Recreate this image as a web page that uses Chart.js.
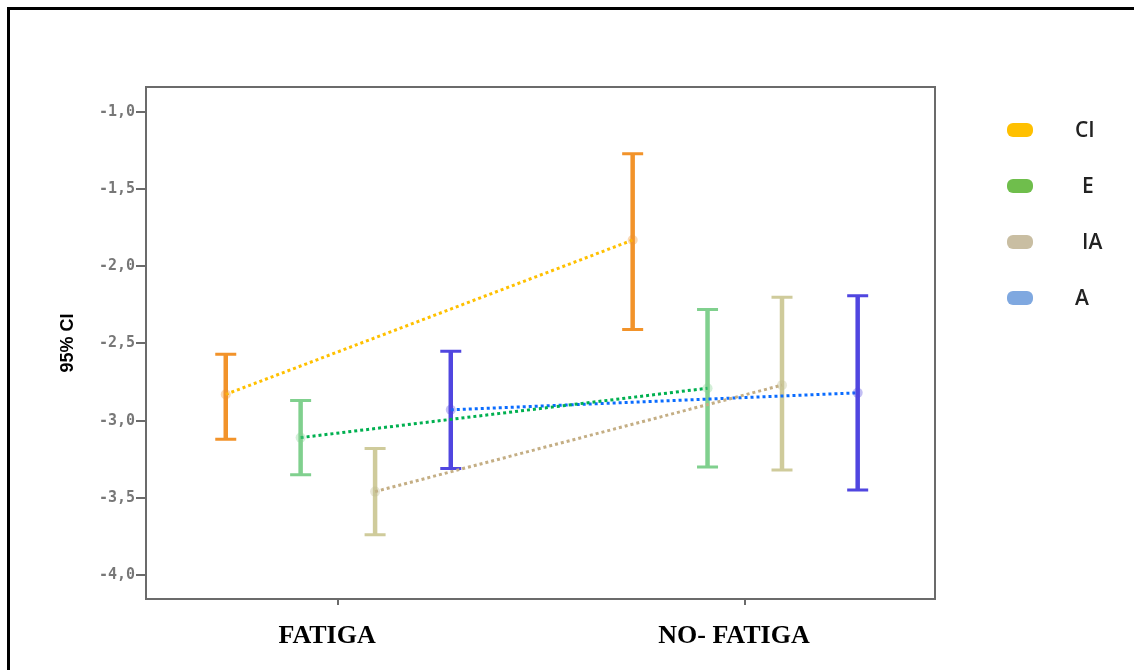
<!DOCTYPE html>
<html>
<head>
<meta charset="utf-8">
<script src="https://cdn.jsdelivr.net/npm/chart.js@4"></script>
<style>
  html, body { margin: 0; padding: 0; background: #fff; }
  #wrap { position: relative; width: 1134px; height: 670px; overflow: hidden; }
  #frame { position: absolute; left: 7px; top: 7px; width: 1200px; height: 700px;
           border-top: 3px solid #000; border-left: 3px solid #000; }
  #chart { position: absolute; left: 0; top: 0; }
  .swatch { position: absolute; width: 26px; height: 14px; border-radius: 6px; }
  .label { position: absolute; font-family: 'Open Sans', sans-serif; font-size: 21px; font-weight: 600; color: #222; line-height: 22px; }
</style>
</head>
<body>
<div id="wrap">
  <div id="frame"></div>
  <canvas id="chart" width="1134" height="670"></canvas>
</div>
<script>
// categories on the x axis
const categories = ['FATIGA', 'NO- FATIGA'];
const seriesNames = ['CI', 'E', 'IA', 'A'];
const yTickValues = [-1.0, -1.5, -2.0, -2.5, -3.0, -3.5, -4.0];

// mean and 95% CI bounds, one value per category
const ciMean = [-2.83, -1.83];
const ciLow  = [-3.12, -2.41];
const ciHigh = [-2.57, -1.27];

const eMean = [-3.11, -2.79];
const eLow  = [-3.35, -3.30];
const eHigh = [-2.87, -2.28];

const iaMean = [-3.46, -2.77];
const iaLow  = [-3.74, -3.32];
const iaHigh = [-3.18, -2.20];

const aMean = [-2.93, -2.82];
const aLow  = [-3.31, -3.45];
const aHigh = [-2.55, -2.19];

// look
const groupOffsets = [-0.276, -0.092, 0.091, 0.277];
const barColors = ['#F2932A', '#80D08E', '#CFCB9B', '#5046E0'];
const pointColors = ['rgba(242,147,42,0.35)', 'rgba(128,208,142,0.35)', 'rgba(190,186,140,0.35)', 'rgba(80,70,224,0.35)'];
const lineColors = ['#FFC000', '#00B050', '#C4AE84', '#0A6CFF'];
const legendColors = ['#FFC000', '#6FBE4C', '#C9BEA2', '#7FA8E0'];
const legendTextX = [1075, 1082, 1082, 1075];

const means = [ciMean, eMean, iaMean, aMean];
const lows = [ciLow, eLow, iaLow, aLow];
const highs = [ciHigh, eHigh, iaHigh, aHigh];

const datasets = seriesNames.map((name, s) => ({
  label: name,
  data: categories.map((c, i) => ({ x: i + groupOffsets[s], y: means[s][i] })),
  low: lows[s],
  high: highs[s],
  barColor: barColors[s],
  borderColor: lineColors[s],
  borderWidth: 3,
  borderDash: [3, 3],
  pointRadius: 5,
  pointBorderWidth: 0,
  pointBackgroundColor: pointColors[s],
  fill: false
}));

// error bars under the dotted lines
const errorBars = {
  id: 'errorBars',
  beforeDatasetsDraw(chart) {
    const { ctx, scales: { x, y } } = chart;
    ctx.save();
    chart.data.datasets.forEach(ds => {
      ds.data.forEach((p, i) => {
        const px = x.getPixelForValue(p.x);
        const top = y.getPixelForValue(ds.high[i]);
        const bot = y.getPixelForValue(ds.low[i]);
        ctx.strokeStyle = ds.barColor;
        ctx.lineWidth = 4.5;
        ctx.beginPath();
        ctx.moveTo(px, top);
        ctx.lineTo(px, bot);
        ctx.stroke();
        ctx.lineWidth = 3;
        ctx.beginPath();
        ctx.moveTo(px - 10.5, top); ctx.lineTo(px + 10.5, top);
        ctx.moveTo(px - 10.5, bot); ctx.lineTo(px + 10.5, bot);
        ctx.stroke();
      });
    });
    ctx.restore();
  }
};

// grey box around the plot area
const plotFrame = {
  id: 'plotFrame',
  beforeDatasetsDraw(chart) {
    const { ctx, chartArea: a } = chart;
    ctx.save();
    ctx.strokeStyle = '#6b6b6b';
    ctx.lineWidth = 2;
    ctx.strokeRect(a.left, a.top, a.right - a.left, a.bottom - a.top);
    ctx.restore();
  }
};

new Chart(document.getElementById('chart'), {
  type: 'line',
  data: { datasets },
  options: {
    responsive: false,
    animation: false,
    layout: { padding: { left: 0, right: 199, top: 87, bottom: 0 } },
    plugins: { legend: { display: false }, tooltip: { enabled: false } },
    scales: {
      x: {
        type: 'linear',
        min: -0.472,
        max: 1.467,
        afterBuildTicks: s => { s.ticks = categories.map((c, i) => ({ value: i })); },
        afterFit: s => { s.height = 71; },
        grid: { drawOnChartArea: false, drawTicks: true, tickLength: 6, color: '#6b6b6b', lineWidth: 2 },
        border: { display: true, color: '#6b6b6b', width: 2 },
        ticks: {
          callback: v => categories[v],
          font: { family: 'Liberation Serif', size: 26, weight: 'bold' },
          color: '#000',
          padding: 16,
          labelOffset: -11,
          maxRotation: 0,
          autoSkip: false
        }
      },
      y: {
        min: -4.156,
        max: -0.838,
        afterBuildTicks: s => { s.ticks = yTickValues.map(v => ({ value: v })); },
        afterFit: s => { s.width = 146; },
        grid: { drawOnChartArea: false, drawTicks: true, tickLength: 10, color: '#6b6b6b', lineWidth: 2 },
        border: { display: true, color: '#6b6b6b', width: 2 },
        ticks: {
          callback: v => v.toFixed(1).replace('.', ','),
          font: { family: 'DejaVu Sans Mono', size: 15, weight: 'bold' },
          color: '#777',
          padding: 1
        },
        title: {
          display: true,
          text: '95% CI',
          font: { family: 'Liberation Sans', size: 18, weight: 'bold' },
          color: '#000',
          padding: { top: 57, bottom: 0 }
        }
      }
    }
  },
  plugins: [errorBars, plotFrame]
});

// legend on the right
const legendY = [130, 186, 242, 298];
const wrap = document.getElementById('wrap');
seriesNames.forEach((name, s) => {
  const sw = document.createElement('div');
  sw.className = 'swatch';
  sw.style.left = '1007px';
  sw.style.top = (legendY[s] - 7) + 'px';
  sw.style.background = legendColors[s];
  wrap.appendChild(sw);
  const lb = document.createElement('div');
  lb.className = 'label';
  lb.style.left = legendTextX[s] + 'px';
  lb.style.top = (legendY[s] - 12) + 'px';
  lb.textContent = name;
  wrap.appendChild(lb);
});
</script>
</body>
</html>
